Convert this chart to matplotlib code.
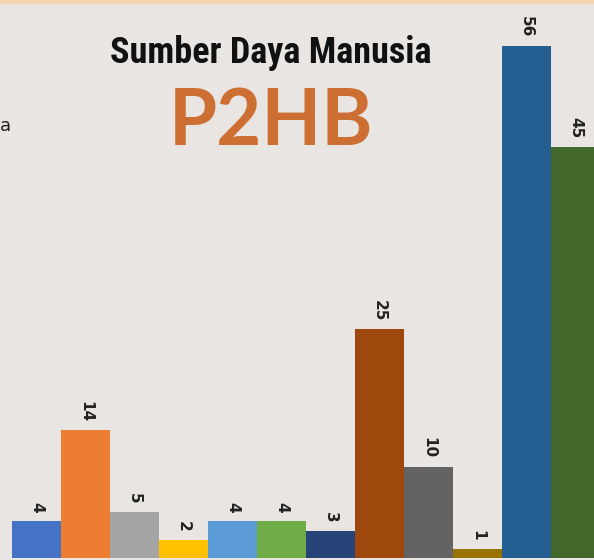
import numpy as np
import matplotlib
matplotlib.use("Agg")
from matplotlib import pyplot as plt

# bar values, left to right (last bar is cut off by the crop)
values = [4, 14, 5, 2, 4, 4, 3, 25, 10, 1, 56, 45]
labels = [str(v) for v in values]
colors = ['#4472C4', '#ED7D31', '#A5A5A5', '#FFC000', '#5B9BD5', '#70AD47',
          '#264478', '#9E480E', '#636363', '#997300', '#255E91', '#43682B']

title_top = 'Sumber Daya Manusia'
title_big = 'P2HB'

bg = '#E8E5E2'

fig = plt.figure(figsize=(5.94, 5.6), dpi=100)
fig.patch.set_facecolor(bg)
ax = fig.add_axes([0, 0, 1, 1])
ax.set_facecolor(bg)

x = np.arange(len(values))
ax.bar(x, values, width=0.99, color=colors, linewidth=0)

for xi, v, lab in zip(x, values, labels):
    ax.annotate(lab, (xi, v), xytext=(0, 6), textcoords='offset points',
                rotation=-90, ha='center', va='bottom', fontsize=11,
                fontweight='bold', color='#222222')

ax.set_xlim(-0.745, 11.378)
ax.set_ylim(-0.22, 61.05)
ax.axis('off')

# orange strip along the top edge
fig.patches.append(plt.Rectangle((0, 0.994), 1, 0.006, transform=fig.transFigure,
                                 color='#F7D5AE', zorder=5))

fig.text(0.455, 0.905, title_top, ha='center', va='center', fontsize=26,
         fontweight='bold', family=['Roboto Condensed', 'Lato', 'DejaVu Sans'],
         color='#111111')
fig.text(0.457, 0.78, title_big, ha='center', va='center', fontsize=56,
         fontweight='bold', family=['Lato', 'DejaVu Sans'], color='#CD6E33')
fig.text(0.0, 0.775, 'a', ha='left', va='center', fontsize=13, color='#222222')

fig.savefig('out.png', dpi=100, facecolor=bg)
